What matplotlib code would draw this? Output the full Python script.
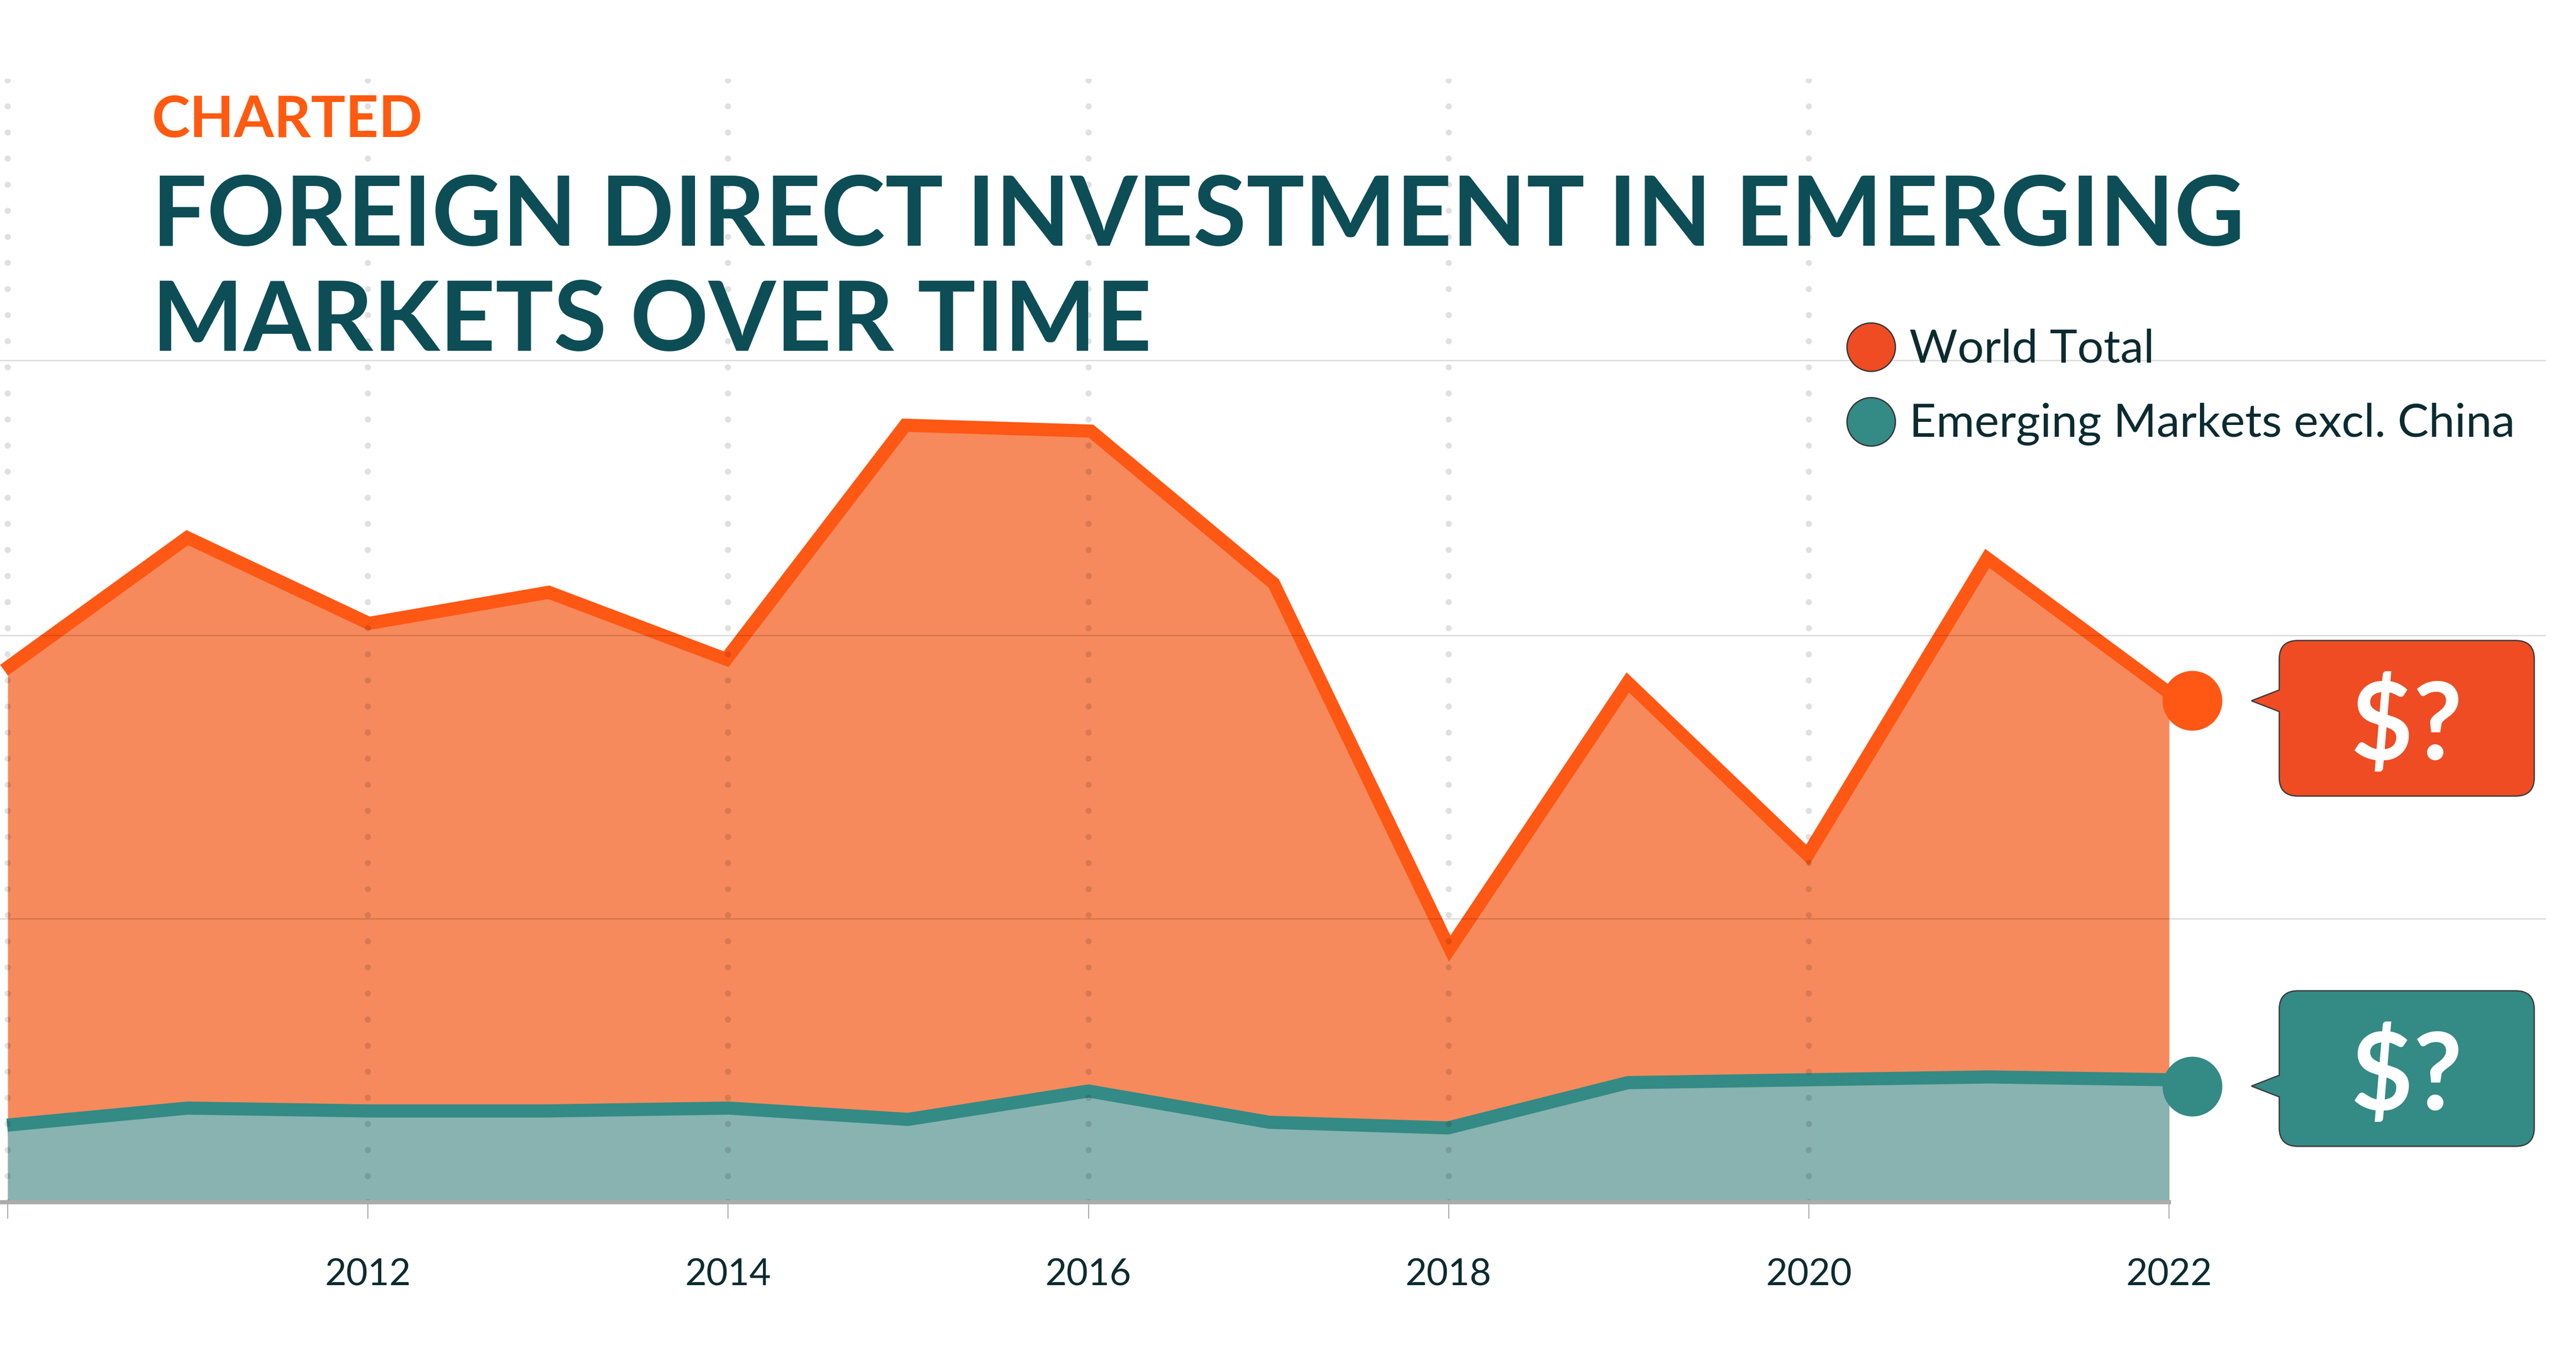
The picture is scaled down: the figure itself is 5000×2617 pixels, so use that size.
import matplotlib
matplotlib.use("Agg")
import matplotlib.pyplot as plt
import matplotlib.transforms as mtransforms
from matplotlib.patches import Circle, PathPatch
from matplotlib.path import Path

# ---------------- data ----------------
years = [2010, 2011, 2012, 2013, 2014, 2015, 2016, 2017, 2018, 2019, 2020, 2021, 2022]
world_total = [1.86, 2.32, 2.02, 2.13, 1.89, 2.72, 2.70, 2.17, 0.85, 1.80, 1.19, 2.24, 1.77]
em_excl_china = [0.25, 0.31, 0.30, 0.30, 0.31, 0.27, 0.37, 0.26, 0.24, 0.40, 0.41, 0.42, 0.41]
tick_years = [2010, 2012, 2014, 2016, 2018, 2020, 2022]
tick_labels = ["", "2012", "2014", "2016", "2018", "2020", "2022"]
dotted_years = [2010, 2012, 2014, 2016, 2018, 2020]
grid_values = [1, 2, 2.97]
series_names = ["World Total", "Emerging Markets excl. China"]
kicker = "CHARTED"
title_lines = ["FOREIGN DIRECT INVESTMENT IN EMERGING", "MARKETS OVER TIME"]
callout_text = "$?"

# ---------------- style ----------------
W, H, DPI = 5000, 2617, 100
PT = 72.0 / DPI  # points per pixel
FONT = ["Lato", "DejaVu Sans"]
ORANGE_LINE = "#FF5714"
ORANGE_FILL = "#F68A5C"
ORANGE_BOX = "#EF4C23"
TEAL_LINE = "#348A84"
TEAL_FILL = "#88B3B1"
TITLE_C = "#0D4D56"
TEXT_C = "#0B2B30"

plt.rcParams["font.family"] = FONT
fig = plt.figure(figsize=(W / DPI, H / DPI), dpi=DPI, facecolor="white")

# axes geometry in pixels
zero_px = 2334      # y pixel of value 0
top_px = 153        # top of axes
px_per_unit = 550.0
px_per_year = 349.6
right_px = 4942
x_left = 2010 - 15 / px_per_year
x_right = x_left + right_px / px_per_year
y_top = (zero_px - top_px) / px_per_unit

ax = fig.add_axes([0, 1 - zero_px / H, right_px / W, (zero_px - top_px) / H])
ax.set_xlim(x_left, x_right)
ax.set_ylim(0, y_top)
ax.set_facecolor("none")
for s in ax.spines.values():
    s.set_visible(False)
ax.set_yticks([])

LW = 50 * PT  # full line width; lower half hidden by the fill
ax.plot(years, world_total, color=ORANGE_LINE, lw=LW, solid_joinstyle="miter",
        solid_capstyle="butt", zorder=1)
ax.fill_between(years, world_total, 0, color=ORANGE_FILL, lw=0, zorder=2)
ax.plot(years, em_excl_china, color=TEAL_LINE, lw=LW, solid_joinstyle="miter",
        solid_capstyle="butt", zorder=3)
ax.fill_between(years, em_excl_china, 0, color=TEAL_FILL, lw=0, zorder=4)

# grid
for v in grid_values:
    ax.axhline(v, color=(0, 0, 0, 0.15), lw=2.5 * PT, zorder=5)
for yr in dotted_years:
    ax.plot([yr, yr], [0, y_top], color=(0, 0, 0, 0.12), lw=12 * PT,
            linestyle=(0, (0.001, 4.22)), dash_capstyle="round", zorder=5)

# baseline band
ax.axhline(0, xmin=0, xmax=(years[-1] - x_left) / (x_right - x_left),
           color="#ABABAB", lw=8 * PT, zorder=6, clip_on=False)

# ticks
ax.set_xticks(tick_years)
ax.set_xticklabels([""] * len(tick_years))
ax.tick_params(axis="x", length=32 * PT, width=2 * PT, color="#AAAAAA", pad=0)
label_y = (zero_px - 2496) / px_per_unit
for yr, lab in zip(tick_years, tick_labels):
    ax.text(yr, label_y, lab, ha="center", va="baseline", fontsize=52,
            color=TEXT_C, clip_on=False)

# end markers
offset = mtransforms.ScaledTranslation(45 / DPI, 0, fig.dpi_scale_trans)
for vals, col in [(world_total, ORANGE_LINE), (em_excl_china, TEAL_LINE)]:
    ax.plot([years[-1]], [vals[-1]], marker="o", markersize=116 * PT,
            color=col, mec="none", transform=ax.transData + offset,
            clip_on=False, zorder=8)

# ---------------- callouts ----------------
fig.canvas.draw()
renderer = fig.canvas.get_renderer()


def callout(x0, x1, yt, yb, tip_x, tip_y, half_base, r, color):
    # pixel coords, y measured from top -> convert to inches (y up)
    def p(x, y):
        return (x / DPI, (H - y) / DPI)
    verts = [p(x0 + r, yb), p(x1 - r, yb), p(x1, yb), p(x1, yb - r),
             p(x1, yt + r), p(x1, yt), p(x1 - r, yt),
             p(x0 + r, yt), p(x0, yt), p(x0, yt + r),
             p(x0, tip_y - half_base), p(tip_x, tip_y), p(x0, tip_y + half_base),
             p(x0, yb - r), p(x0, yb), p(x0 + r, yb), p(x0 + r, yb)]
    codes = [Path.MOVETO, Path.LINETO, Path.CURVE3, Path.CURVE3,
             Path.LINETO, Path.CURVE3, Path.CURVE3,
             Path.LINETO, Path.CURVE3, Path.CURVE3,
             Path.LINETO, Path.LINETO, Path.LINETO,
             Path.LINETO, Path.CURVE3, Path.CURVE3, Path.CLOSEPOLY]
    patch = PathPatch(Path(verts, codes), facecolor=color, edgecolor="#3A3A3A",
                      lw=2.5 * PT, transform=fig.dpi_scale_trans, zorder=10)
    fig.add_artist(patch)
    fig.text((x0 + x1) / 2 / W, 1 - ((yt + yb) / 2) / H, callout_text,
             ha="center", va="center_baseline", fontsize=150, fontweight="bold",
             color="white", parse_math=False, zorder=11)


box_x0, box_x1, tip_x = 4424, 4919, 4370
for vals, col, shift in [(world_total, ORANGE_BOX, 34), (em_excl_china, TEAL_LINE, -34)]:
    ty = H - ax.transData.transform((years[-1], vals[-1]))[1]
    cy = ty + shift
    callout(box_x0, box_x1, cy - 151, cy + 151, tip_x, ty, 21, 36, col)

# ---------------- legend ----------------
leg_y = [674, 819]
for name, col, yy in zip(series_names, [ORANGE_BOX, TEAL_LINE], leg_y):
    fig.add_artist(Circle((3632 / DPI, (H - yy) / DPI), 47 / DPI, facecolor=col,
                          edgecolor="#333333", lw=2.5 * PT,
                          transform=fig.dpi_scale_trans, zorder=10))

leg_texts = []
for name, yy in zip(series_names, leg_y):
    t = fig.text(3706 / W, 1 - (yy + 29) / H, name, ha="left", va="baseline",
                 fontsize=62, color=TEXT_C)
    leg_texts.append(t)


def fit(text_obj, target_px):
    w = text_obj.get_window_extent(renderer).width
    text_obj.set_fontsize(text_obj.get_fontsize() * target_px / w)


fit(leg_texts[1], 4883 - 3706)
leg_texts[0].set_fontsize(leg_texts[1].get_fontsize())

# ---------------- titles ----------------
k = fig.text(295 / W, 1 - 266 / H, kicker, ha="left", va="baseline",
             fontsize=78, fontweight="bold", color="#FF5A0F")
fit(k, 821 - 295)

t1 = fig.text(295 / W, 1 - 477 / H, title_lines[0], ha="left", va="baseline",
              fontsize=140, fontweight="bold", color=TITLE_C)
fit(t1, 4357 - 295)
t2 = fig.text(295 / W, 1 - 681 / H, title_lines[1], ha="left", va="baseline",
              fontsize=t1.get_fontsize(), fontweight="bold", color=TITLE_C)

fig.savefig("out.png", dpi=DPI, facecolor="white")
